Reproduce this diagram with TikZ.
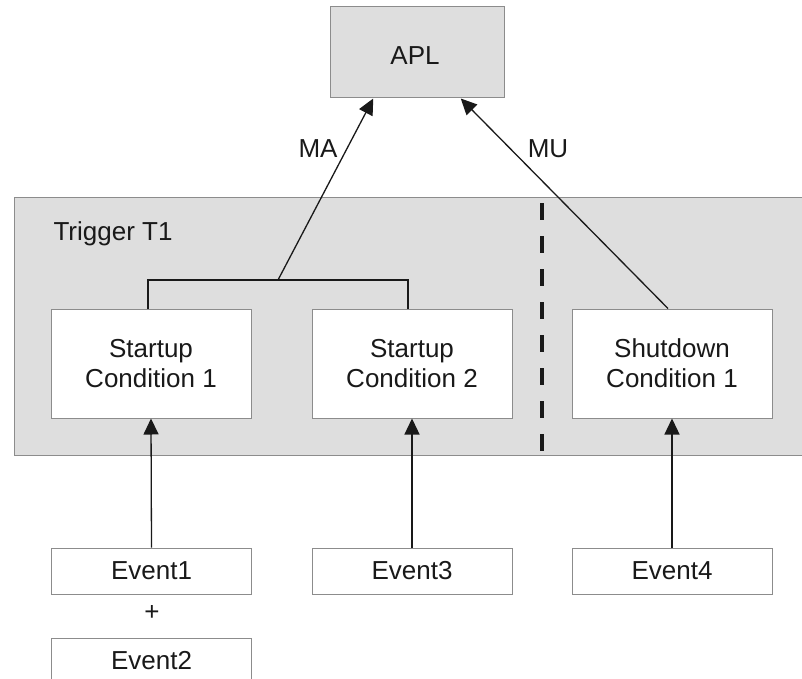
\documentclass[tikz,border=0pt]{standalone}
\usepackage{fontspec}
\setmainfont{Liberation Sans}
\usetikzlibrary{arrows.meta,calc}
\definecolor{shade}{RGB}{222,222,222}
\definecolor{edge}{RGB}{140,140,140}
\begin{document}
\begin{tikzpicture}[x=1pt,y=-1pt,
  every node/.style={font=\fontsize{26}{30}\selectfont, text=black!90},
  graybox/.style={draw=edge, line width=1pt, fill=shade, inner sep=0pt},
  condbox/.style={draw=edge, line width=1pt, fill=white, inner sep=0pt,
    minimum width=200pt, minimum height=109pt, align=center},
  evbox/.style={draw=edge, line width=1pt, fill=white, inner sep=0pt,
    minimum width=200pt, minimum height=46pt},
  conn/.style={line width=1.3pt, black!90},
  arr/.style={conn, -{Triangle[length=16pt,width=15pt]}},
  divider/.style={line width=3.5pt, black!90, dash pattern=on 17pt off 16pt}
]
\useasboundingbox (0,0) rectangle (802,679);
\clip (0,0) rectangle (802,679);
\fill[white] (0,0) rectangle (802,679);

% trigger region
\node[graybox, minimum width=800pt, minimum height=258pt, anchor=north west] (trig) at (14,197) {};
\node[anchor=west] (tlabel) at (50,234) {Trigger T1};

% APL
\node[graybox, minimum width=174pt, minimum height=91pt] (apl) at (417,52.5) {};
\node (apltext) at (415,56) {APL};

% conditions
\node[condbox] (sc1) at (151,363.5) {Startup\\Condition 1};
\node[condbox] (sc2) at (412,363.5) {Startup\\Condition 2};
\node[condbox] (sd1) at (672,363.5) {Shutdown\\Condition 1};

% dashed divider
\coordinate (dtop) at (542,203);
\coordinate (dbot) at (542,455);
\draw[divider] (dtop) -- (dbot);

% events
\node[evbox] (e1) at (151.5,571) {Event1};
\node (plus) at (152,613) {+};
\node[evbox] (e2) at (151.5,661) {Event2};
\node[evbox] (e3) at (412,571) {Event3};
\node[evbox] (e4) at (672,571) {Event4};

% bracket and MA
\coordinate (j) at (278,280);
\draw[conn] ([xshift=-3pt]sc1.north) |- (j) -| ([xshift=-4pt]sc2.north);
\draw[arr] (j) -- ($(apl.south west)!0.25!(apl.south east)$);
\node (ma) at (318,149) {MA};

% MU
\draw[arr] ([xshift=-4pt]sd1.north) -- ($(apl.south west)!0.75!(apl.south east)$);
\node (mu) at (548,149) {MU};

% event arrows
\draw[arr] (e1.north) -- (sc1.south);
\draw[arr] (e3.north) -- (sc2.south);
\draw[arr] (e4.north) -- (sd1.south);
\end{tikzpicture}
\end{document}
